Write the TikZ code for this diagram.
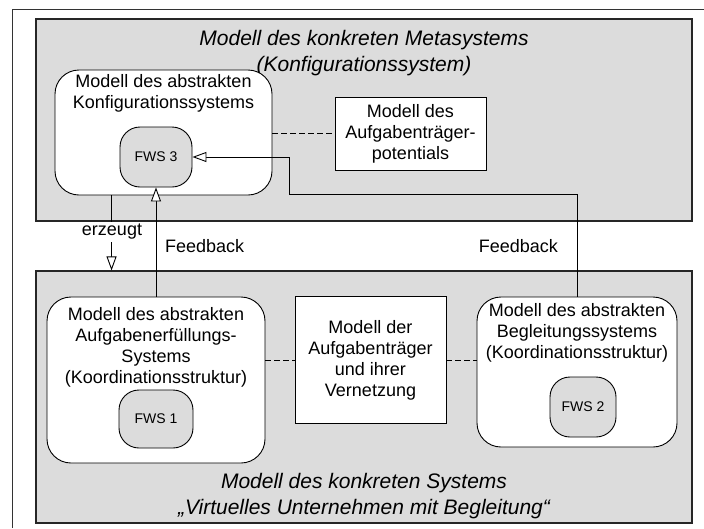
\documentclass[tikz,border=0pt]{standalone}
\usepackage{fontspec}
\setmainfont{Liberation Sans}
\usepackage{tikz}
\usetikzlibrary{arrows.meta,positioning}
\definecolor{panelgray}{RGB}{220,220,220}
\newcommand{\boxfont}{\fontsize{18}{21}\selectfont}
\newcommand{\titlefont}{\fontsize{21}{26}\selectfont\itshape}
\newcommand{\fwsfont}{\fontsize{14}{16}\selectfont}
\tikzset{
  panel/.style={
    draw=black!85,
    fill=panelgray,
    line width=1.1pt
  },
  roundbox/.style={
    draw=black,
    fill=white,
    rounded corners=24pt,
    line width=0.9pt
  },
  plainbox/.style={
    draw=black,
    fill=white,
    align=center,
    font=\boxfont,
    line width=0.9pt
  },
  fwsbox/.style={
    draw=black,
    fill=panelgray,
    rounded corners=20pt,
    font=\fwsfont,
    line width=0.9pt
  },
  boxtext/.style={align=center, inner sep=0pt, font=\boxfont},
  titletext/.style={align=center, inner sep=0pt, font=\titlefont},
  linkline/.style={dash pattern=on 6pt off 3pt, line width=1pt},
  fbarrow/.style={-{Triangle[fill=white,length=14pt,width=10pt]}, line width=0.9pt}
}
\begin{document}
\begin{tikzpicture}[x=1pt,y=-1pt]
  \useasboundingbox (0,0) rectangle (704,528);
  \draw[line width=1pt,black!80] (12,528) -- (12,9) -- (704,9);
  \node[panel,minimum width=656pt,minimum height=202pt] (metapanel) at (364,120) {};
  \node[panel,minimum width=656pt,minimum height=252pt] (syspanel) at (364,397) {};
  \node[titletext] (metatitle) at (364,53) {Modell des konkreten Metasystems\\(Konfigurationssystem)};
  \node[titletext] (systitle) at (364,496) {Modell des konkreten Systems\\„Virtuelles Unternehmen mit Begleitung“};
  \node[roundbox,minimum width=217pt,minimum height=125pt] (konf) at (163.5,132.5) {};
  \node[boxtext] (konftext) at (163.5,93.5) {Modell des abstrakten\\Konfigurationssystems};
  \node[fwsbox,minimum width=72pt,minimum height=60pt] (fws3) at (156,157) {FWS 3};
  \node[plainbox,minimum width=151pt,minimum height=73pt] (pot) at (410.5,133.5) {Modell des\\Aufgabenträger-\\potentials};
  \node[roundbox,minimum width=218pt,minimum height=166pt] (aufg) at (156,380) {};
  \node[boxtext] (aufgtext) at (156,347.5) {Modell des abstrakten\\Aufgabenerfüllungs-\\Systems\\(Koordinationsstruktur)};
  \node[fwsbox,minimum width=74pt,minimum height=58pt] (fws1) at (156,419) {FWS 1};
  \node[plainbox,minimum width=151pt,minimum height=127pt] (traeger) at (370.5,360) {Modell der\\Aufgabenträger\\und ihrer\\Vernetzung};
  \node[roundbox,minimum width=200pt,minimum height=150pt] (begl) at (577,372) {};
  \node[boxtext] (begltext) at (577,333) {Modell des abstrakten\\Begleitungssystems\\(Koordinationsstruktur)};
  \node[fwsbox,minimum width=66pt,minimum height=60pt] (fws2) at (583,407) {FWS 2};
  \draw[linkline] (konf.east |- pot.west) -- (pot.west);
  \draw[linkline] (aufg.east |- traeger.west) -- (traeger.west);
  \draw[linkline] (traeger.east) -- (traeger.east -| begl.west);
  \coordinate (knick) at (289,194);
  \draw[fbarrow] (fws3.south |- aufg.north) -- (fws3.south);
  \draw[fbarrow] (begl.north) |- (knick) |- (fws3.east);
  \draw[fbarrow] ([xshift=57pt]konf.south west) -- ([xshift=57pt]konf.south west |- syspanel.north);
  \node[fill=white,inner sep=2pt,font=\boxfont] (erzeugt) at (112,232) {erzeugt};
  \node[boxtext,anchor=west] (fb1) at (165,246) {Feedback};
  \node[boxtext,anchor=east] (fb2) at (558,246) {Feedback};
\end{tikzpicture}
\end{document}
